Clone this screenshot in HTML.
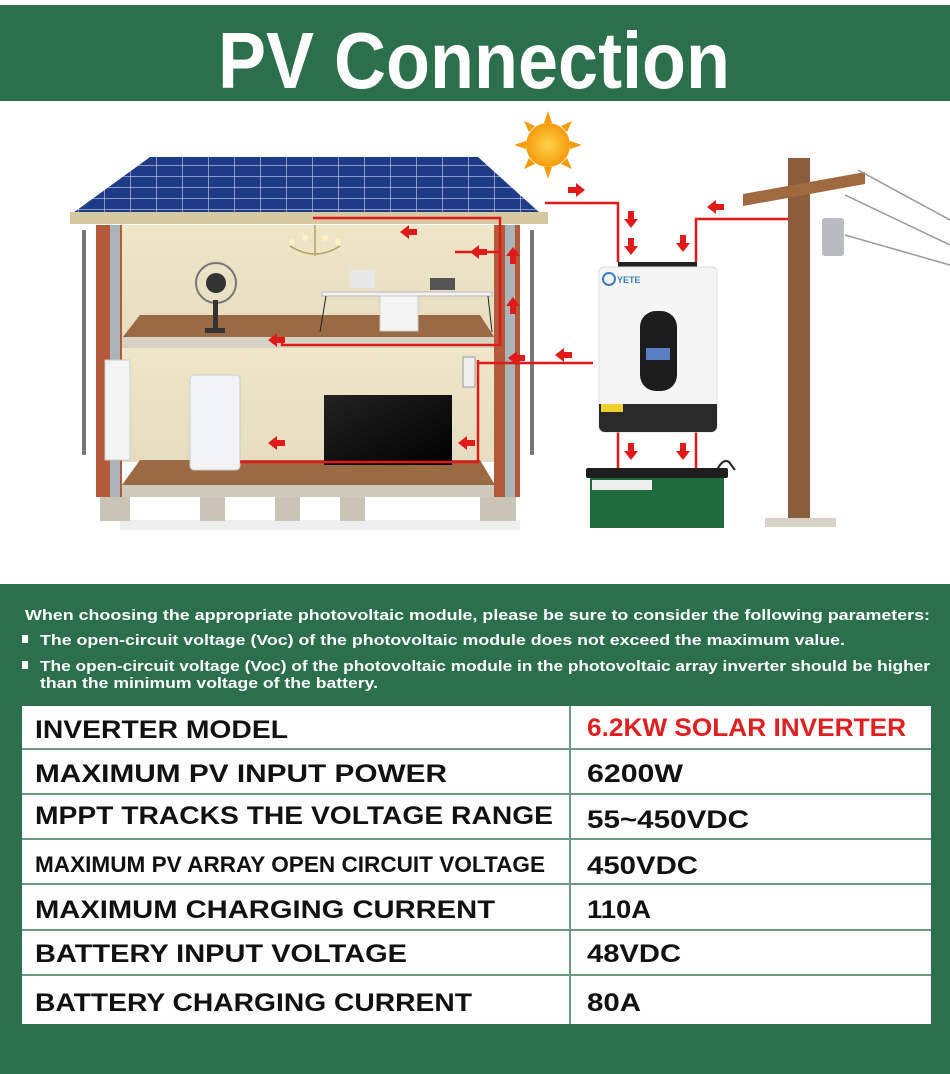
<!DOCTYPE html>
<html><head><meta charset="utf-8"><style>
html,body{margin:0;padding:0;background:#fff;}
svg{display:block;}
</style></head><body>
<svg width="950" height="1074" viewBox="0 0 950 1074" xmlns="http://www.w3.org/2000/svg" font-family="Liberation Sans, sans-serif">
<defs>
<marker id="a" viewBox="0 0 10 10" refX="5" refY="5" markerWidth="1" markerHeight="1"><path d="M0 0"/></marker>
<pattern id="cells" width="26" height="11" patternUnits="userSpaceOnUse"><rect width="26" height="11" fill="#1f3a86"/><path d="M0 0H26M0 0V11" stroke="#c9d4ee" stroke-width="1.2"/></pattern>
<linearGradient id="wall" x1="0" x2="0" y1="0" y2="1"><stop offset="0" stop-color="#efe6c8"/><stop offset="1" stop-color="#e6dcc0"/></linearGradient>
<linearGradient id="tv" x1="0" x2="1" y1="0" y2="1"><stop offset="0" stop-color="#222"/><stop offset="1" stop-color="#000"/></linearGradient>
<radialGradient id="sun"><stop offset="0" stop-color="#ffd34a"/><stop offset="1" stop-color="#f59b0c"/></radialGradient>
</defs>
<!-- header -->
<rect x="0" y="0" width="950" height="5" fill="#fff"/>
<rect x="0" y="5" width="950" height="96" fill="#2b6f4c"/>
<text x="218" y="88" font-size="80" font-weight="bold" fill="#fff" textLength="512" lengthAdjust="spacingAndGlyphs">PV Connection</text>

<!-- sun -->
<g transform="translate(548,145)">
<g fill="#f59b0c">
<polygon points="0,-34 4,-22 -4,-22"/><polygon points="0,34 4,22 -4,22"/><polygon points="-34,0 -22,4 -22,-4"/><polygon points="34,0 22,4 22,-4"/>
<polygon points="24,-24 19,-13 13,-19"/><polygon points="-24,24 -19,13 -13,19"/><polygon points="-24,-24 -19,-13 -13,-19"/><polygon points="24,24 19,13 13,19"/>
</g>
<circle r="22" fill="url(#sun)"/>
</g>

<!-- house -->
<rect x="120" y="520" width="400" height="10" fill="#eee"/>
<rect x="122" y="225" width="373" height="112" fill="url(#wall)"/>
<rect x="122" y="348" width="373" height="114" fill="url(#wall)"/>
<polygon points="140,315 480,315 495,338 122,338" fill="#9a6a44"/>
<rect x="118" y="337" width="380" height="11" fill="#d8d2c4"/>
<polygon points="140,460 480,460 495,485 122,485" fill="#9a6a44"/>
<rect x="110" y="485" width="400" height="12" fill="#cfcabd"/>
<rect x="100" y="497" width="30" height="24" fill="#c9c4b6"/><rect x="200" y="497" width="25" height="24" fill="#c9c4b6"/><rect x="275" y="497" width="25" height="24" fill="#c9c4b6"/><rect x="340" y="497" width="25" height="24" fill="#c9c4b6"/><rect x="480" y="497" width="36" height="24" fill="#c9c4b6"/>
<rect x="96" y="225" width="26" height="272" fill="#b45a3a"/>
<rect x="494" y="225" width="26" height="272" fill="#b45a3a"/>
<rect x="110" y="225" width="10" height="272" fill="#a9b3b8"/>
<rect x="505" y="225" width="10" height="272" fill="#a9b3b8"/>
<rect x="82" y="230" width="4" height="225" fill="#777"/><rect x="530" y="230" width="4" height="225" fill="#777"/>
<rect x="105" y="360" width="25" height="100" fill="#f4f4f4" stroke="#ccc"/>
<!-- roof -->
<polygon points="150,157 478,157 540,213 73,213" fill="url(#cells)"/>
<rect x="70" y="212" width="478" height="12" fill="#d6c9a2"/>
<!-- furniture -->
<circle cx="216" cy="283" r="20" fill="none" stroke="#777" stroke-width="2"/><circle cx="216" cy="283" r="10" fill="#333"/><rect x="213" y="300" width="5" height="30" fill="#333"/><rect x="205" y="328" width="20" height="5" fill="#333"/>
<g stroke="#b9a15f" stroke-width="1.5" fill="none"><path d="M315 225V256M290 246Q315 262 340 246"/></g>
<circle cx="292" cy="242" r="3" fill="#fff4c0"/><circle cx="305" cy="238" r="3" fill="#fff4c0"/><circle cx="325" cy="238" r="3" fill="#fff4c0"/><circle cx="338" cy="242" r="3" fill="#fff4c0"/>
<rect x="322" y="292" width="170" height="4" fill="#f2f2f2" stroke="#bbb"/>
<rect x="350" y="270" width="25" height="18" fill="#e8e8e8"/><rect x="430" y="278" width="25" height="12" fill="#555"/>
<rect x="380" y="296" width="38" height="35" fill="#f4f4f4" stroke="#ccc"/>
<path d="M326 296L320 332M488 296L492 332" stroke="#222"/>
<rect x="190" y="375" width="50" height="95" rx="4" fill="#f2f3f4" stroke="#ccc"/>
<rect x="324" y="395" width="128" height="70" fill="url(#tv)"/>
<rect x="463" y="357" width="12" height="30" fill="#eee" stroke="#999"/>
<!-- red wires -->
<g stroke="#e01919" stroke-width="2.5" fill="none">
<path d="M313 218H500V345H282V337"/>
<path d="M455 252H500"/>
<path d="M478 360V462H240"/>
<path d="M478 363H593"/>
<path d="M545 203H618V262"/>
<path d="M696 262V219H795"/>
<path d="M618 432V470M696 432V470"/>
</g>
<g fill="#e01919">
<path d="M400 232l9-7v4h8v6h-8v4z"/>
<path d="M268 340l9-7v4h8v6h-8v4z"/>
<path d="M470 252l9-7v4h8v6h-8v4z"/>
<path d="M508 358l9-7v4h8v6h-8v4z"/>
<path d="M555 355l9-7v4h8v6h-8v4z"/>
<path d="M268 443l9-7v4h8v6h-8v4z"/>
<path d="M458 443l9-7v4h8v6h-8v4z"/>
<path d="M707 207l9-7v4h8v6h-8v4z"/>
<path d="M585 190l-9-7v4h-8v6h8v4z"/>
<path d="M513 247l-7 9h4v8h6v-8h4z"/>
<path d="M513 302l-7 9h4v8h6v-8h4z" transform="translate(0,-5)"/>
<path d="M631 228l-7-9h4v-8h6v8h4z"/><path d="M631 255l-7-9h4v-8h6v8h4z"/>
<path d="M683 252l-7-9h4v-8h6v8h4z"/>
<path d="M631 460l-7-9h4v-8h6v8h4z"/><path d="M683 460l-7-9h4v-8h6v8h4z"/>
</g>

<!-- inverter -->
<rect x="618" y="262" width="79" height="6" fill="#222"/>
<rect x="599" y="267" width="118" height="165" rx="5" fill="#f5f5f5" stroke="#ddd"/>
<path d="M599 404H717V426a6 6 0 0 1-6 6H605a6 6 0 0 1-6-6z" fill="#2a2a2a"/>
<rect x="640" y="311" width="37" height="80" rx="16" fill="#1c1c1c"/>
<rect x="646" y="348" width="24" height="12" fill="#5b7fc4"/>
<circle cx="609" cy="279" r="6" fill="none" stroke="#3a7ec6" stroke-width="2"/>
<text x="617" y="283" font-size="9" fill="#3a7ec6" font-weight="bold">YETE</text>
<rect x="601" y="404" width="22" height="8" fill="#f0d030"/>

<!-- battery -->
<rect x="586" y="468" width="142" height="10" rx="2" fill="#1e1e1e"/>
<rect x="590" y="478" width="134" height="50" fill="#1f6b3d"/>
<rect x="592" y="480" width="60" height="10" fill="#eee"/>
<path d="M717 470q6-12 12-8l6 8" stroke="#222" fill="none" stroke-width="2"/>

<!-- pole -->
<rect x="765" y="518" width="71" height="9" fill="#d8d2c8"/>
<rect x="788" y="158" width="22" height="360" fill="#8a5d3c"/>
<polygon points="743,194 865,172 865,184 743,206" fill="#a06a40"/>
<rect x="822" y="218" width="22" height="38" rx="3" fill="#b8bcc0"/>
<g stroke="#999" stroke-width="1.5" fill="none"><path d="M858 170L950 220M845 195L950 245M845 235L950 265"/></g>

<!-- bottom section -->
<rect x="0" y="584" width="950" height="490" fill="#2b6f4c"/>
<g fill="#fff" font-weight="bold">
<text x="25" y="620" font-size="15" textLength="905" lengthAdjust="spacingAndGlyphs">When choosing the appropriate photovoltaic module, please be sure to consider the following parameters:</text>
<rect x="22" y="635" width="6" height="8"/>
<text x="40" y="645" font-size="15" textLength="805" lengthAdjust="spacingAndGlyphs">The open-circuit voltage (Voc) of the photovoltaic module does not exceed the maximum value.</text>
<rect x="22" y="661" width="6" height="8"/>
<text x="40" y="671" font-size="15" textLength="890" lengthAdjust="spacingAndGlyphs">The open-circuit voltage (Voc) of the photovoltaic module in the photovoltaic array inverter should be higher</text>
<text x="40" y="688" font-size="15" textLength="338" lengthAdjust="spacingAndGlyphs">than the minimum voltage of the battery.</text>
</g>
<rect x="22" y="706" width="909" height="318" fill="#fff"/>
<g stroke="#6a9a80" stroke-width="2">
<path d="M22 749H931M22 794H931M22 839H931M22 884H931M22 930H931M22 975H931M570 706V1024"/>
</g>
<g font-size="25" font-weight="bold" fill="#111">
<text x="35" y="738" textLength="253" lengthAdjust="spacingAndGlyphs">INVERTER MODEL</text>
<text x="587" y="736" fill="#e02020" textLength="319" lengthAdjust="spacingAndGlyphs">6.2KW SOLAR INVERTER</text>
<text x="35" y="782" textLength="412" lengthAdjust="spacingAndGlyphs">MAXIMUM PV INPUT POWER</text>
<text x="587" y="782" textLength="96" lengthAdjust="spacingAndGlyphs">6200W</text>
<text x="35" y="824" textLength="518" lengthAdjust="spacingAndGlyphs">MPPT TRACKS THE VOLTAGE RANGE</text>
<text x="587" y="828" textLength="162" lengthAdjust="spacingAndGlyphs">55~450VDC</text>
<text x="35" y="872" font-size="22" textLength="510" lengthAdjust="spacingAndGlyphs">MAXIMUM PV ARRAY OPEN CIRCUIT VOLTAGE</text>
<text x="587" y="874" textLength="111" lengthAdjust="spacingAndGlyphs">450VDC</text>
<text x="35" y="918" textLength="460" lengthAdjust="spacingAndGlyphs">MAXIMUM CHARGING CURRENT</text>
<text x="587" y="918" textLength="64" lengthAdjust="spacingAndGlyphs">110A</text>
<text x="35" y="962" textLength="372" lengthAdjust="spacingAndGlyphs">BATTERY INPUT VOLTAGE</text>
<text x="587" y="962" textLength="94" lengthAdjust="spacingAndGlyphs">48VDC</text>
<text x="35" y="1011" textLength="437" lengthAdjust="spacingAndGlyphs">BATTERY CHARGING CURRENT</text>
<text x="587" y="1011" textLength="54" lengthAdjust="spacingAndGlyphs">80A</text>
</g>
</svg>
</body></html>
